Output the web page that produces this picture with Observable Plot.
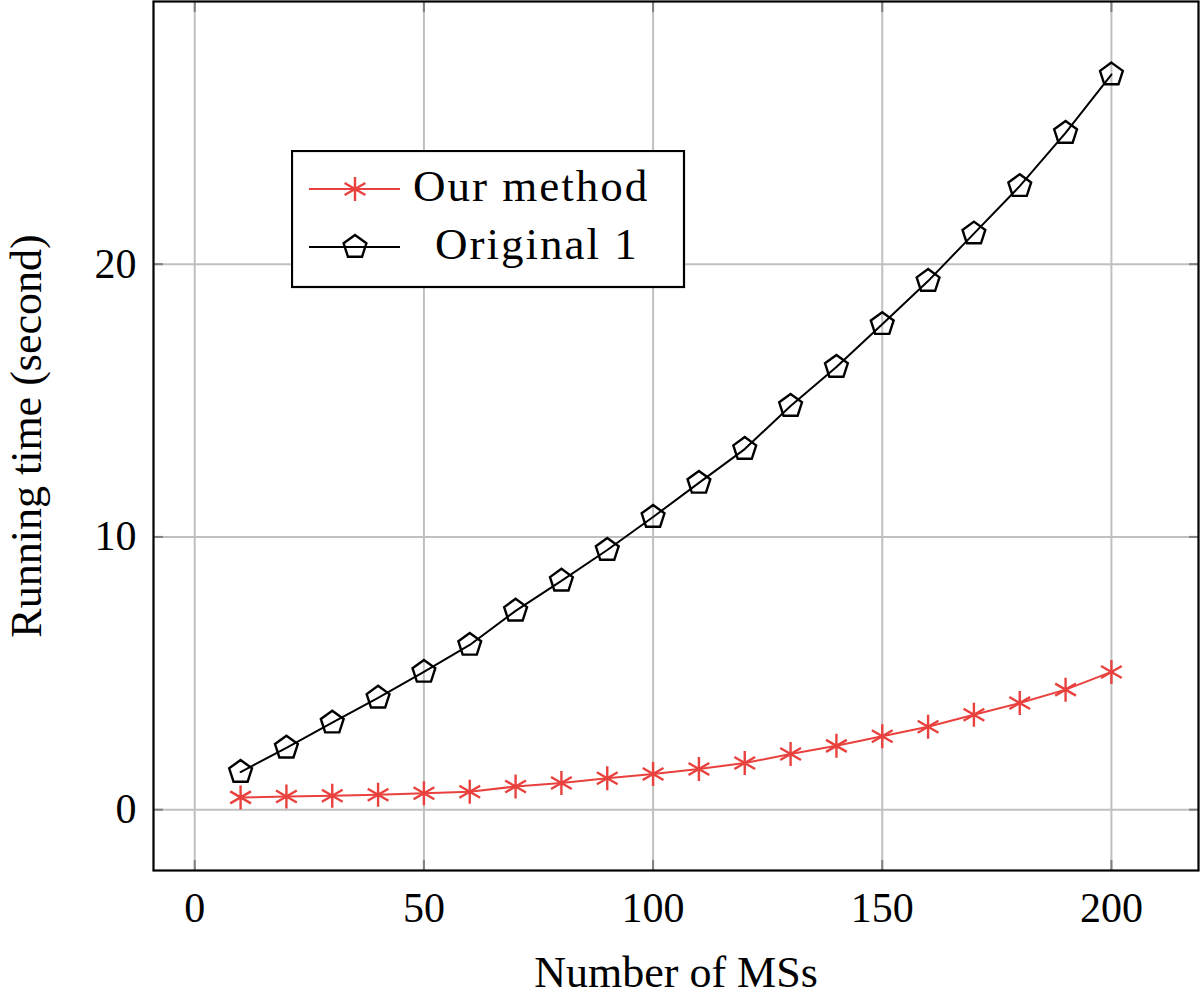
<!DOCTYPE html>
<html><head><meta charset="utf-8">
<script src="https://cdn.jsdelivr.net/npm/d3@7"></script>
<script src="https://cdn.jsdelivr.net/npm/@observablehq/plot@0.6"></script>
<style>
body{margin:0;background:#fff;}
#wrap{position:relative;width:1200px;height:997px;font-family:"Liberation Serif",serif;}
#legend{position:absolute;left:291px;top:150px;}
</style></head><body><div id="wrap"></div>
<script>
const msCounts = [10,20,30,40,50,60,70,80,90,100,110,120,130,140,150,160,170,180,190,200];
const ourMethod = [0.45,0.48,0.51,0.55,0.60,0.66,0.85,0.98,1.15,1.31,1.49,1.71,2.04,2.34,2.69,3.04,3.48,3.91,4.40,5.05];
const original1 = [1.38,2.27,3.19,4.10,5.05,6.04,7.29,8.39,9.52,10.73,11.98,13.22,14.80,16.23,17.80,19.38,21.12,22.86,24.81,26.95];
const seriesNames = ["Our method","Original 1"];
const xTicks = [0,50,100,150,200];
const yTicks = [0,10,20];
const xLabel = "Number of MSs";
const yLabel = "Running time (second)";
const red = "#e8413e";

const asterisk = {draw(ctx, size){
  const r = Math.sqrt(size/Math.PI);
  const c = Math.cos(Math.PI/6)*r, s = Math.sin(Math.PI/6)*r;
  ctx.moveTo(0,-r); ctx.lineTo(0,r);
  ctx.moveTo(-c,-s); ctx.lineTo(c,s);
  ctx.moveTo(-c,s); ctx.lineTo(c,-s);
}};
const pentagon = {draw(ctx, size){
  const r = Math.sqrt(size/Math.PI);
  for(let i=0;i<5;i++){
    const a = -Math.PI/2 + i*2*Math.PI/5;
    const px = r*Math.cos(a), py = r*Math.sin(a);
    if(i===0) ctx.moveTo(px,py); else ctx.lineTo(px,py);
  }
  ctx.closePath();
}};

const ours = msCounts.map((x,i)=>({x, y: ourMethod[i]}));
const orig = msCounts.map((x,i)=>({x, y: original1[i]}));

const fontFam = '"Liberation Serif", serif';
const plot = Plot.plot({
  width: 1200, height: 997,
  marginLeft: 153, marginRight: 2, marginTop: 1, marginBottom: 127,
  style: {fontFamily: fontFam, fontSize: "42px", color: "#000", background: "#fff"},
  x: {domain: [-9, 219]},
  y: {domain: [-2.23, 29.63]},
  marks: [
    Plot.gridX(xTicks, {stroke: "#c0c0c0", strokeOpacity: 1, strokeWidth: 2}),
    Plot.gridY(yTicks, {stroke: "#c0c0c0", strokeOpacity: 1, strokeWidth: 2}),
    Plot.axisX({ticks: xTicks, tickSize: -10, tickPadding: 32, stroke: "#808080", strokeWidth: 2, fontSize: 42, label: null}),
    Plot.axisX({ticks: [], label: xLabel, labelAnchor: "center", labelArrow: "none", labelOffset: 116, fontSize: 44, letterSpacing: 1.5}),
    Plot.axisY({ticks: yTicks, tickSize: -10, tickPadding: 27, stroke: "#808080", strokeWidth: 2, fontSize: 42, label: null}),
    Plot.axisY({ticks: [], label: yLabel, labelAnchor: "center", labelArrow: "none", labelOffset: 144, fontSize: 44, letterSpacing: 1.5}),
    Plot.axisX({anchor: "top", ticks: xTicks, tickSize: -10, tickFormat: () => "", label: null, stroke: "#808080", strokeWidth: 2}),
    Plot.axisY({anchor: "right", ticks: yTicks, tickSize: -10, tickFormat: () => "", label: null, stroke: "#808080", strokeWidth: 2}),
    Plot.frame({stroke: "#000", strokeWidth: 2.2}),
    Plot.line(orig, {x: "x", y: "y", stroke: "#000", strokeWidth: 2}),
    Plot.dot(orig, {x: "x", y: "y", symbol: pentagon, r: 12, stroke: "#000", strokeWidth: 2.4, fill: "none"}),
    Plot.line(ours, {x: "x", y: "y", stroke: red, strokeWidth: 2}),
    Plot.dot(ours, {x: "x", y: "y", symbol: asterisk, r: 12, stroke: red, strokeWidth: 2.4, fill: "none"})
  ]
});
const wrap = document.getElementById("wrap");
wrap.appendChild(plot);

// legend
const lg = d3.create("svg").attr("id","legend").attr("width", 395).attr("height", 139)
  .style("font-family", fontFam);
lg.append("rect").attr("x",1).attr("y",1).attr("width",392).attr("height",136)
  .attr("fill","#fff").attr("stroke","#000").attr("stroke-width",2.2);
const items = [
  {name: seriesNames[0], color: red, sym: asterisk, ly: 39, tx: 122, ty: 51},
  {name: seriesNames[1], color: "#000", sym: pentagon, ly: 97, tx: 144, ty: 109}
];
for (const it of items) {
  lg.append("line").attr("x1",18).attr("x2",109).attr("y1",it.ly).attr("y2",it.ly)
    .attr("stroke",it.color).attr("stroke-width",2);
  lg.append("path").attr("d", d3.symbol(it.sym, 144*Math.PI)())
    .attr("transform",`translate(64,${it.ly})`).attr("fill","none")
    .attr("stroke",it.color).attr("stroke-width",2.4);
  lg.append("text").attr("x",it.tx).attr("y",it.ty).attr("font-size",45)
    .attr("letter-spacing", 2).text(it.name);
}
wrap.appendChild(lg.node());
</script></body></html>
